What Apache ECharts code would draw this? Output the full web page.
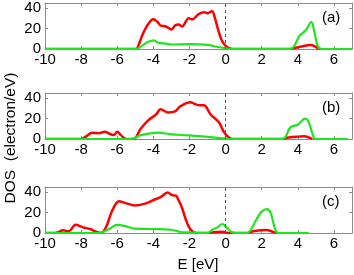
<!DOCTYPE html>
<html><head><meta charset="utf-8">
<script src="https://cdn.jsdelivr.net/npm/echarts@6/dist/echarts.min.js"></script>
<style>html,body{margin:0;padding:0;background:#fff}#c{width:354px;height:275px}</style>
</head><body><div id="c"></div>
<script>
// Data: [energy (eV), DOS (electron/eV)]
const redA = [[-10,0],[-5.0,0],[-4.9,0.5],[-4.6,14],[-4.3,24],[-4.0,29],[-3.8,27],[-3.6,23],[-3.3,22],[-3.0,19],[-2.8,23],[-2.6,24],[-2.4,22],[-2.2,27],[-2.05,30],[-1.85,29],[-1.5,34],[-1.2,36],[-1.0,35],[-0.75,37],[-0.6,31],[-0.4,18],[-0.2,8],[0.0,3],[0.2,0.8],[0.4,0],[3.6,0],[3.8,1],[4.2,2.5],[4.7,3.8],[5.0,2],[5.2,0],[5.3,0]];
const greenA = [[-10,0],[-5.0,0],[-4.8,1],[-4.4,6],[-4.0,8.5],[-3.7,6],[-3.3,5.2],[-3.0,4.4],[-2.0,4.8],[-1.0,4],[-0.5,2.2],[0,0.8],[0.3,0],[3.6,0],[3.8,3],[4.1,13],[4.3,16],[4.5,20],[4.75,26.5],[4.9,18],[5.1,3],[5.3,0],[7,0]];
const redB = [[-10,0],[-8.0,0],[-7.7,2.8],[-7.4,6],[-7.0,5.7],[-6.7,7],[-6.2,3.8],[-6.0,7],[-5.8,3.8],[-5.5,0],[-5.1,0],[-4.7,10],[-4.3,18],[-3.85,24],[-3.6,29],[-3.2,26],[-2.8,27],[-2.5,32],[-1.95,36],[-1.67,34],[-1.4,33],[-1.2,33],[-0.83,24],[-0.37,16.4],[-0.1,7],[0.2,1.3],[0.4,0],[3.2,0],[3.4,1.3],[4.35,2.8],[4.8,0]];
const greenB = [[-10,0],[-5.2,0],[-4.7,3.8],[-3.75,6.3],[-3.0,4.5],[-2.0,3.5],[-1.0,2],[0.1,0.3],[0.4,0],[3.15,0],[3.6,11.6],[4.0,14],[4.4,20],[4.57,18],[4.9,0.6],[5.0,0],[6.8,0]];
const redC = [[-10,0],[-9.7,0],[-9.3,0.6],[-9.0,2.6],[-8.7,1.6],[-8.3,8],[-7.9,5.5],[-7.5,3.9],[-7.2,1.6],[-6.9,0],[-6.6,6.5],[-6.3,21],[-5.9,31],[-5.5,29],[-5.0,27],[-4.4,29],[-3.9,33],[-3.6,35],[-3.2,39.5],[-2.95,37],[-2.75,36.5],[-2.6,32],[-2.4,24],[-2.2,13],[-2.0,5],[-1.8,1],[-1.6,0],[-0.9,0],[-0.65,0.7],[-0.2,1.3],[0.2,0],[1.2,0],[1.6,2],[2.25,3],[2.7,0.6],[2.9,0]];
const greenC = [[-10,0],[-7.0,0],[-6.45,3.9],[-6.0,8],[-5.5,6.5],[-5.0,4.2],[-4.0,3.9],[-3.0,3.2],[-2.5,1],[-2.0,0.5],[-1.0,0],[-0.73,3.2],[-0.45,5.5],[-0.18,8.8],[0,6.5],[0.28,1.6],[0.55,0],[1.2,0],[1.4,3.2],[1.7,13],[2.0,21],[2.3,23.4],[2.5,19.5],[2.7,6.5],[2.9,0],[4.6,0]];
const xTicks = [-10,-8,-6,-4,-2,0,2,4,6];
const yTicks = [0,20,40];
const panelLabels = ['(a)','(b)','(c)'];

const FONT = 'Liberation Sans, Arial, sans-serif';
const tops = [3, 93, 187];
const H = 46;
const chart = echarts.init(document.getElementById('c'), null, {renderer:'canvas'});
const grids = tops.map(t => ({left:45, right:2, top:t, height:H}));
const xAxes = [], yAxes = [], series = [], graphic = [];
const panels = [[redA, greenA],[redB, greenB],[redC, greenC]];
const gray = '#8c8c8c';
for (let i=0;i<3;i++){
  xAxes.push({type:'value', gridIndex:i, min:-10, max:7, interval:2, position:'bottom',
    axisLine:{onZero:false, lineStyle:{color:gray, width:1}},
    axisTick:{inside:true, length:3, lineStyle:{color:gray}},
    axisLabel:{color:'#000', fontSize:15, fontFamily:FONT, margin:3, showMaxLabel:false,
      formatter: v => xTicks.includes(v) ? String(v) : ''},
    splitLine:{show:false}});
  yAxes.push({type:'value', gridIndex:i, min:0, max:45, interval:20, position:'left',
    axisLine:{show:true, onZero:false, lineStyle:{color:gray, width:1}},
    axisTick:{inside:true, length:3, lineStyle:{color:gray}},
    axisLabel:{color:'#000', fontSize:15, fontFamily:FONT, margin:4, showMaxLabel:false,
      formatter: v => yTicks.includes(v) ? String(v) : ''},
    splitLine:{show:false}});
}
for (let i=0;i<3;i++){
  xAxes.push({type:'value', gridIndex:i, min:-10, max:7, interval:2, position:'top',
    axisLine:{onZero:false, lineStyle:{color:gray, width:1}},
    axisTick:{inside:true, length:3, lineStyle:{color:gray}},
    axisLabel:{show:false}, splitLine:{show:false}});
  yAxes.push({type:'value', gridIndex:i, min:0, max:45, interval:20, position:'right',
    axisLine:{show:true, onZero:false, lineStyle:{color:gray, width:1}},
    axisTick:{inside:true, length:3, lineStyle:{color:gray}},
    axisLabel:{show:false}, splitLine:{show:false}});
}
for (let i=0;i<3;i++){
  series.push({type:'line', xAxisIndex:i, yAxisIndex:i, data:panels[i][0], showSymbol:false,
    smooth:0.35, lineStyle:{color:'#ff0000', width:2.5}, silent:true, animation:false,
    markLine:{silent:true, symbol:'none', label:{show:false}, animation:false,
      lineStyle:{color:'#555', type:[3,3], width:1}, data:[{xAxis:0}]}});
  series.push({type:'line', xAxisIndex:i, yAxisIndex:i, data:panels[i][1], showSymbol:false,
    smooth:0.35, lineStyle:{color:'#1ee61e', width:2.2}, silent:true, animation:false});
  graphic.push({type:'text', left:322, top:tops[i]+7, style:{text:panelLabels[i], font:'15px '+FONT, fill:'#000'}});
}
graphic.push({type:'text', x:11, y:138, rotation:Math.PI/2,
  style:{text:'DOS  (electron/eV)', font:'15.5px '+FONT, fill:'#000', align:'center', verticalAlign:'middle'}});
graphic.push({type:'text', x:198, y:265,
  style:{text:'E [eV]', font:'15px '+FONT, fill:'#000', align:'center', verticalAlign:'middle'}});

chart.setOption({animation:false, backgroundColor:'#fff', grid:grids, xAxis:xAxes, yAxis:yAxes, series:series, graphic:graphic});
</script></body></html>
